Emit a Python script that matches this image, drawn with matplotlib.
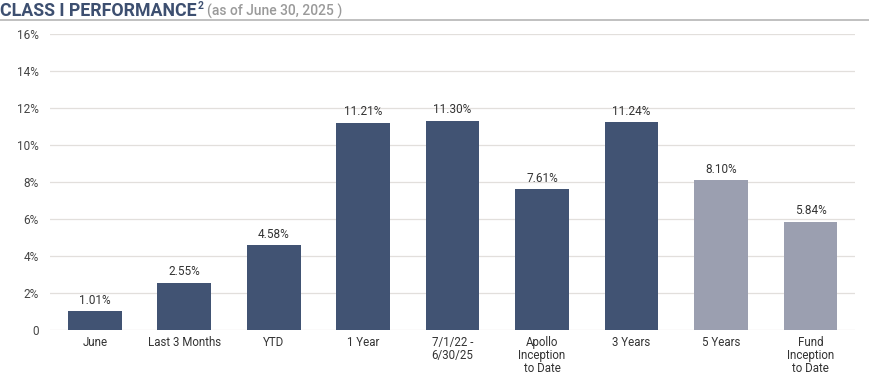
import matplotlib
matplotlib.use("Agg")
import matplotlib.pyplot as plt
from matplotlib.lines import Line2D

plt.rcParams['font.family'] = ['Roboto', 'DejaVu Sans']

# Dados do gráfico
categories = ["June", "Last 3 Months", "YTD", "1 Year", "7/1/22 -\n6/30/25",
              "Apollo\nInception\nto Date", "3 Years", "5 Years", "Fund\nInception\nto Date"]
returns = [1.01, 2.55, 4.58, 11.21, 11.30, 7.61, 11.24, 8.10, 5.84]
highlight = [True, True, True, True, True, True, True, False, False]
yticks = [0, 2, 4, 6, 8, 10, 12, 14, 16]

dark = "#415373"
light = "#9B9FB0"
colors = [dark if h else light for h in highlight]

fig = plt.figure(figsize=(8.7, 3.75), dpi=100)
ax = fig.add_axes([0.0575, 0.12, 0.9255, 0.789])

x = range(len(categories))
ax.bar(x, returns, width=0.6, color=colors, zorder=3)

# valores acima das barras
for xi, v in zip(x, returns):
    ax.text(xi, v + 0.25, f"{v:.2f}%", ha="center", va="bottom", fontsize=8.5, color="#333333")

ax.set_xlim(-0.5, len(categories) - 0.5)
ax.set_ylim(0, 16)
ax.set_yticks(yticks)
ax.set_yticklabels(["0"] + [f"{t}%" for t in yticks[1:]])
ax.set_xticks(list(x))
ax.set_xticklabels(categories, fontsize=8.3, color="#333333", va="top", linespacing=1.02)
ax.tick_params(axis="y", length=0, labelsize=8.5, labelcolor="#444444", pad=8)
ax.tick_params(axis="x", length=0, pad=4)

ax.grid(axis="y", color="#E2DFDC", linewidth=0.9, zorder=0)
for s in ax.spines.values():
    s.set_visible(False)

# título: cada parte colocada a seguir à anterior
fig.canvas.draw()
renderer = fig.canvas.get_renderer()
t1 = fig.text(0.0, 0.972, "CLASS I PERFORMANCE", fontsize=12.8, fontweight="bold",
              color="#3D4F70", ha="left", va="center")
x1 = fig.transFigure.inverted().transform(t1.get_window_extent(renderer))[1, 0]
t2 = fig.text(x1 + 0.001, 0.985, "2", fontsize=7.5, fontweight="bold", color="#3D4F70",
              ha="left", va="center")
x2 = fig.transFigure.inverted().transform(t2.get_window_extent(renderer))[1, 0]
fig.text(x2 + 0.004, 0.970, "(as of June 30, 2025 )", fontsize=10, fontweight="medium",
         color="#9A9A9A", ha="left", va="center")
fig.add_artist(Line2D([0, 1], [0.947, 0.947], color="#B5B5B5", linewidth=1.2, transform=fig.transFigure))

fig.savefig("out.png", dpi=100)
